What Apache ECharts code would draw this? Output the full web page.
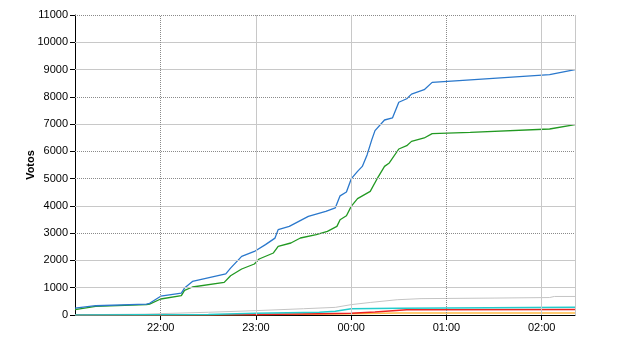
<!DOCTYPE html>
<html>
<head>
<meta charset="utf-8">
<script src="https://cdn.jsdelivr.net/npm/echarts@6/dist/echarts.min.js"></script>
<style>html,body{margin:0;padding:0;background:#fff}#c{width:640px;height:350px}</style>
</head>
<body>
<div id="c"></div>
<script>
// ---- data ----
var xTickLabels = ["22:00", "23:00", "00:00", "01:00", "02:00"];
var yTicks = [0, 1000, 2000, 3000, 4000, 5000, 6000, 7000, 8000, 9000, 10000, 11000];

var blueTimes = ["21:06","21:19","21:51","21:53","22:00","22:13","22:15","22:20","22:41","22:44","22:51","22:59","23:06","23:12","23:14","23:21","23:33","23:44","23:50","23:53","23:57","00:00","00:04","00:07","00:10","00:13","00:15","00:21","00:26","00:30","00:35","00:38","00:46","00:51","01:08","02:05","02:21"];
var blueVotes = [250,340,400,430,690,800,990,1230,1510,1720,2150,2330,2580,2820,3130,3250,3616,3800,3930,4370,4510,4990,5266,5449,5870,6430,6760,7150,7224,7800,7930,8100,8262,8529,8595,8812,8995];

var greenTimes = ["21:06","21:19","21:51","21:53","22:00","22:13","22:15","22:20","22:40","22:44","22:51","22:59","23:02","23:11","23:14","23:22","23:28","23:38","23:45","23:51","23:53","23:57","00:00","00:04","00:12","00:16","00:21","00:24","00:30","00:35","00:38","00:46","00:51","01:15","02:05","02:21"];
var greenVotes = [194,315,378,400,587,708,902,1027,1195,1441,1687,1870,2053,2274,2516,2640,2823,2945,3066,3249,3495,3641,3982,4265,4532,4961,5449,5574,6087,6208,6366,6491,6648,6696,6820,6978];

var grayTimes = ["21:06","21:50","22:00","22:30","23:00","23:30","23:50","00:00","00:12","00:29","00:44","01:30","02:05","02:08","02:21"];
var grayVotes = [10,30,50,100,160,230,280,380,460,560,600,620,640,680,680];

var cyanTimes = ["21:06","22:30","23:00","23:40","23:50","00:00","00:30","01:00","02:21"];
var cyanVotes = [0,20,60,100,140,230,250,260,280];

var redTimes = ["21:06","23:00","23:40","00:00","00:15","00:35","02:21"];
var redVotes = [0,20,50,60,110,190,200];

var orangeTimes = ["21:06","22:30","23:30","00:00","00:30","02:21"];
var orangeVotes = [0,10,30,50,70,75];

var solidH = [1000, 2000, 4000, 7000, 9000, 10000];
var dottedH = [3000, 5000, 6000, 8000, 11000];
var solidV = ["23:00", "00:00", "02:00", "02:21"];
var dottedV = ["22:00", "01:00"];

// ---- helpers ----
function toMin(s) {
  var p = s.split(":"), h = +p[0], m = +p[1];
  if (h < 12) h += 24;
  return h * 60 + m;
}
function pairs(times, vals) {
  return times.map(function (t, i) { return [toMin(t), vals[i]]; });
}
var xMin = toMin("21:06"), xMax = toMin("02:21");
var tickVals = xTickLabels.map(toMin);

var font = "'Liberation Sans', Arial, sans-serif";

function lineSeries(name, times, vals, color, width) {
  return {
    name: name, type: 'line', data: pairs(times, vals), showSymbol: false,
    lineStyle: { color: color, width: width }, itemStyle: { color: color },
    z: 3, animation: false
  };
}

var gridMarks = [];
solidH.forEach(function (v) { gridMarks.push({ yAxis: v, lineStyle: { color: '#c8c8c8', type: 'solid', width: 1 } }); });
dottedH.forEach(function (v) { gridMarks.push({ yAxis: v, lineStyle: { color: '#8a8a8a', type: [1, 1], width: 1 } }); });
solidV.forEach(function (t) { gridMarks.push({ xAxis: toMin(t), lineStyle: { color: '#c8c8c8', type: 'solid', width: 1 } }); });
dottedV.forEach(function (t) { gridMarks.push({ xAxis: toMin(t), lineStyle: { color: '#8a8a8a', type: [1, 1], width: 1 } }); });

var chart = echarts.init(document.getElementById('c'), null, { renderer: 'canvas' });
chart.setOption({
  animation: false,
  backgroundColor: '#fff',
  grid: { left: 75, right: 65, top: 15, bottom: 35, containLabel: false },
  xAxis: {
    type: 'value', min: xMin, max: xMax,
    axisLine: { show: true, lineStyle: { color: '#000', width: 1 } },
    axisTick: { show: true, length: 5, lineStyle: { color: '#000' }, customValues: tickVals },
    axisLabel: {
      customValues: tickVals, margin: 7, color: '#000', fontSize: 11, fontFamily: font,
      formatter: function (v) {
        var i = tickVals.indexOf(v);
        return i >= 0 ? xTickLabels[i] : '';
      }
    },
    splitLine: { show: false }
  },
  yAxis: {
    type: 'value', min: 0, max: 11000, interval: 1000,
    name: 'Votos', nameLocation: 'middle', nameGap: 39, nameRotate: 90, nameMoveOverlap: false,
    nameTextStyle: { color: '#000', fontSize: 11, fontWeight: 'bold', fontFamily: font },
    axisLine: { show: true, lineStyle: { color: '#000', width: 1 } },
    axisTick: { show: true, length: 5, lineStyle: { color: '#000' } },
    axisLabel: { margin: 7, color: '#000', fontSize: 11, fontFamily: font,
      formatter: function (v) { return yTicks.indexOf(v) >= 0 ? String(v) : ''; } },
    splitLine: { show: false }
  },
  series: [
    {
      name: 'grid', type: 'line', data: [], z: 1, silent: true,
      markLine: { silent: true, symbol: ['none', 'none'], label: { show: false }, animation: false, data: gridMarks }
    },
    lineSeries('Otros', grayTimes, grayVotes, '#c4c4c4', 1),
    lineSeries('Naranja', orangeTimes, orangeVotes, '#ffbb44', 1.5),
    lineSeries('Rojo', redTimes, redVotes, '#ee2222', 1.5),
    lineSeries('Cian', cyanTimes, cyanVotes, '#22cccc', 1.5),
    lineSeries('Verde', greenTimes, greenVotes, '#229922', 1.3),
    lineSeries('Azul', blueTimes, blueVotes, '#2a78cc', 1.3)
  ]
});
</script>
</body>
</html>
